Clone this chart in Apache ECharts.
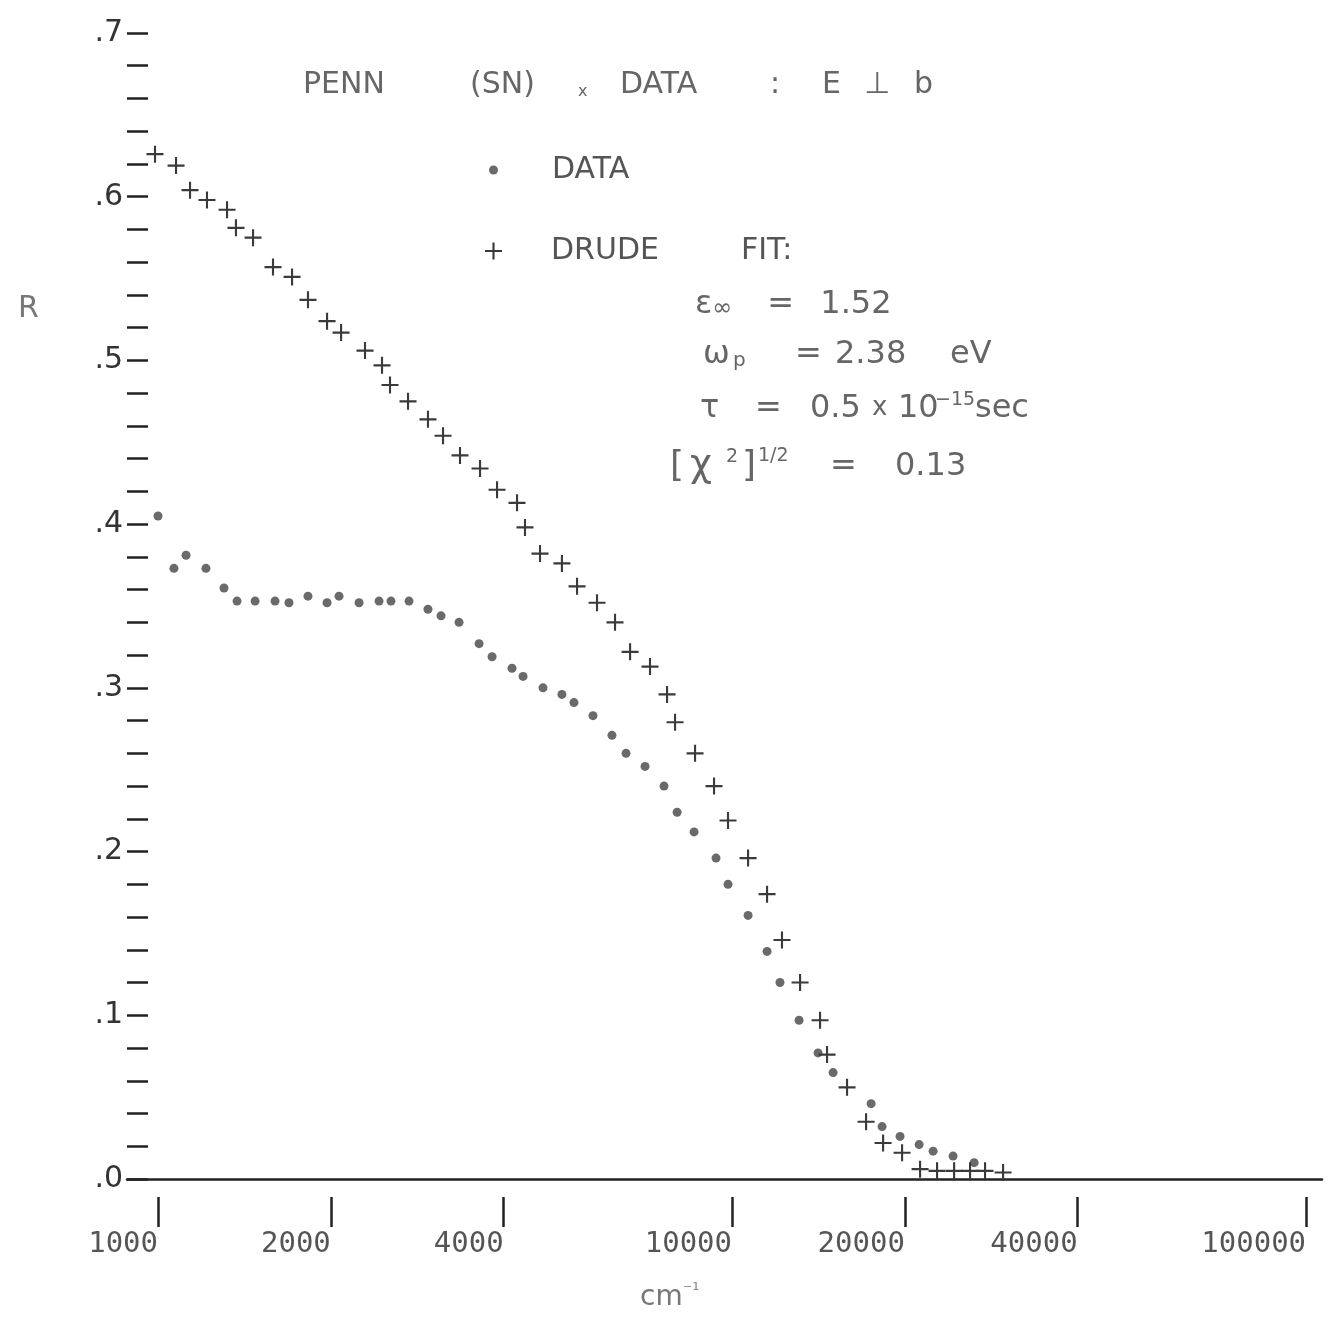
<!DOCTYPE html>
<html>
<head>
<meta charset="utf-8">
<script src="https://cdn.jsdelivr.net/npm/echarts@6/dist/echarts.min.js"></script>
<style>html,body{margin:0;padding:0;background:#fff;}#chart{width:1327px;height:1326px;}</style>
</head>
<body>
<div id="chart"></div>
<script>
// Measured reflectance data (wavenumber in cm^-1, R)
const dataWavenumber = [1000, 1066, 1119, 1212, 1303, 1373, 1476, 1599, 1691, 1825, 1970, 2067, 2240, 2427, 2546, 2737, 2953, 3112, 3345, 3625, 3819, 4137, 4324, 4685, 5054, 5304, 5725, 6178, 6536, 7054, 7612, 8023, 8587, 9378, 9840, 10664, 11508, 12120, 13085, 14120, 14997, 17470, 18255, 19620, 21180, 22400, 24270, 26410];
const dataR = [0.405, 0.373, 0.381, 0.373, 0.361, 0.353, 0.353, 0.353, 0.352, 0.356, 0.352, 0.356, 0.352, 0.353, 0.353, 0.353, 0.348, 0.344, 0.340, 0.327, 0.319, 0.312, 0.307, 0.300, 0.296, 0.291, 0.283, 0.271, 0.260, 0.252, 0.240, 0.224, 0.212, 0.196, 0.180, 0.161, 0.139, 0.120, 0.097, 0.077, 0.065, 0.046, 0.032, 0.026, 0.021, 0.017, 0.014, 0.010];
// Drude fit
const fitWavenumber = [988, 1075, 1137, 1217, 1319, 1367, 1464, 1586, 1712, 1825, 1970, 2084, 2294, 2456, 2536, 2726, 2953, 3137, 3358, 3639, 3896, 4221, 4358, 4629, 5054, 5370, 5818, 6254, 6643, 7196, 7705, 7956, 8621, 9303, 9840, 10664, 11508, 12218, 13138, 14234, 14639, 15862, 17120, 18330, 19780, 21260, 22760, 24370, 25980, 27590, 29660];
const fitR = [0.626, 0.619, 0.604, 0.598, 0.592, 0.581, 0.575, 0.557, 0.551, 0.537, 0.524, 0.517, 0.506, 0.497, 0.485, 0.475, 0.464, 0.454, 0.442, 0.434, 0.421, 0.413, 0.398, 0.382, 0.376, 0.362, 0.352, 0.340, 0.322, 0.313, 0.296, 0.279, 0.260, 0.240, 0.219, 0.196, 0.174, 0.146, 0.120, 0.097, 0.076, 0.056, 0.035, 0.022, 0.016, 0.006, 0.005, 0.005, 0.005, 0.005, 0.004];
const xTickValues = [1000, 2000, 4000, 10000, 20000, 40000, 100000];

const PLUS = 'path://M7,0h2v7h7v2h-7v7h-2v-7h-7v-2h7z';
const chart = echarts.init(document.getElementById('chart'), null, {renderer: 'canvas'});
const XMIN = 883, XMAX = 106600;
const HAND = 'DejaVu Sans';
const INK = '#666';

function tok(size, w, extra) {
  return Object.assign({fontFamily: HAND, fontSize: size, fontWeight: 'normal', fill: INK, color: INK}, w ? {width: w} : {}, extra || {});
}

const option = {
  backgroundColor: '#ffffff',
  animation: false,
  title: {
    text: '{w1|PENN}{w2|(SN)}{sx|x}{w3|DATA}{w4|:}{w5|E}{w6|⊥}{w7|b}',
    left: 298, top: 65,
    textStyle: {
      fontWeight: 'normal',
      rich: {
        w1: tok(30, 167), w2: tok(30, 108), sx: tok(16, 42, {padding: [14, 0, 0, 0]}),
        w3: tok(30, 150), w4: tok(30, 52), w5: tok(30, 42), w6: tok(30, 50), w7: tok(30)
      }
    }
  },
  legend: [
    {
      data: [{name: 'DATA', icon: 'circle'}],
      left: 484, top: 150, itemWidth: 9, itemHeight: 9,
      selectedMode: false,
      textStyle: {fontFamily: HAND, fontSize: 30, color: '#555', padding: [0, 0, 0, 49]}
    },
    {
      data: [{name: 'DRUDE FIT:', icon: PLUS}],
      left: 480, top: 231, itemWidth: 17, itemHeight: 17,
      selectedMode: false,
      formatter: function () { return '{a|DRUDE}{b|FIT:}'; },
      textStyle: {
        padding: [0, 0, 0, 44],
        rich: {a: tok(30, 190, {color: '#555'}), b: tok(30, 0, {color: '#555'})}
      }
    }
  ],
  grid: {left: 127, right: 5, top: 33, bottom: 147, containLabel: false},
  xAxis: [
    {
      type: 'log', min: XMIN, max: XMAX, logBase: 10,
      axisLine: {show: true, lineStyle: {color: '#222', width: 2.5}},
      axisTick: {show: false}, axisLabel: {show: false}, splitLine: {show: false}
    },
    {
      type: 'log', min: XMIN, max: XMAX, logBase: 10, position: 'bottom', offset: 18,
      axisLine: {show: false},
      axisTick: {show: true, length: 30, customValues: xTickValues, lineStyle: {color: '#222', width: 2.5}},
      axisLabel: {
        show: true, customValues: xTickValues, align: 'right', margin: 33,
        fontFamily: 'DejaVu Sans Mono', fontSize: 29, color: '#555',
        formatter: function (v) { return String(Math.round(v)); }
      },
      splitLine: {show: false}
    }
  ],
  yAxis: {
    type: 'value', min: 0, max: 0.7, interval: 0.02,
    axisLine: {show: false},
    axisTick: {show: true, inside: true, length: 21, lineStyle: {color: '#222', width: 2.5}},
    axisLabel: {
      show: true, margin: 4, fontFamily: 'DejaVu Sans', fontSize: 30, color: '#333',
      formatter: function (v) {
        const t = v * 10;
        if (Math.abs(t - Math.round(t)) < 1e-6) return '.' + Math.round(t);
        return '';
      }
    },
    splitLine: {show: false}
  },
  series: [
    {
      name: 'DATA', type: 'scatter', xAxisIndex: 0,
      symbol: 'circle', symbolSize: 9,
      itemStyle: {color: '#6a6a6a', opacity: 1},
      data: dataWavenumber.map((x, i) => [x, dataR[i]]),
      z: 3
    },
    {
      name: 'DRUDE FIT:', type: 'scatter', xAxisIndex: 0,
      symbol: PLUS, symbolSize: 17,
      itemStyle: {color: '#3a3a3a', opacity: 1},
      data: fitWavenumber.map((x, i) => [x, fitR[i]]),
      z: 4
    }
  ],
  graphic: [
    {type: 'text', left: 18, top: 294, style: {text: 'R', font: '30px "DejaVu Sans"', fill: '#777'}},
    {type: 'text', left: 640, top: 1282, style: {
      text: '{a|cm}{u|⁻¹}',
      rich: {a: tok(28, 0, {fill: '#777'}), u: tok(18, 0, {fill: '#888', padding: [0, 0, 14, 0]})}
    }},
    {type: 'text', left: 695, top: 289, style: {
      text: '{t|ε}{s|∞}{t2|=}{t|1.52}',
      rich: {t: tok(32), s: tok(24, 55, {padding: [8, 0, 0, 0]}), t2: tok(32, 53)}
    }},
    {type: 'text', left: 703, top: 339, style: {
      text: '{a|ω}{s|p}{b|=}{c|2.38}{t|eV}',
      rich: {a: tok(32, 30), s: tok(20, 62, {padding: [12, 0, 0, 0]}), b: tok(32, 40), c: tok(32, 115), t: tok(32)}
    }},
    {type: 'text', left: 700, top: 391, style: {
      text: '{a|τ}{b|=}{c|0.5}{d|x}{e|10}{u|−15}{t|sec}',
      rich: {a: tok(32, 55), b: tok(32, 55), c: tok(32, 62), d: tok(26, 26), e: tok(32, 37),
             u: tok(19, 40, {padding: [0, 0, 16, 0]}), t: tok(32)}
    }},
    {type: 'text', left: 670, top: 447, style: {
      text: '{a|[}{b|χ}{u|2}{c|]}{h|1/2}{e|=}{t|0.13}',
      rich: {a: tok(36, 20), b: tok(38, 36), u: tok(19, 16, {padding: [0, 0, 18, 0]}), c: tok(36, 16),
             h: tok(19, 72, {padding: [0, 0, 20, 0]}), e: tok(32, 65), t: tok(32)}
    }}
  ]
};
chart.setOption(option);
</script>
</body>
</html>
